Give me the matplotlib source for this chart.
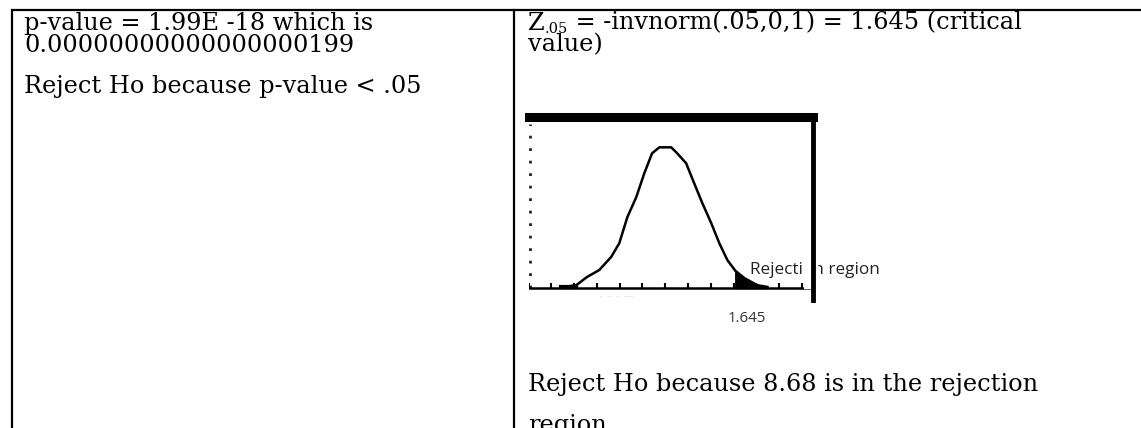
import numpy as np
import matplotlib
matplotlib.use("Agg")
import matplotlib.pyplot as plt
from matplotlib.patches import Rectangle

# cell texts
left_lines = ["p-value = 1.99E -18 which is", "0.00000000000000000199"]
left_decision = "Reject Ho because p-value < .05"
z_main, z_sub = "Z", ".05"
right_first_rest = " = -invnorm(.05,0,1) = 1.645 (critical"
right_second = "value)"
right_decision = ["Reject Ho because 8.68 is in the rejection", "region"]

# normal curve
z_vals = [-2.38, -2.09, -1.84, -1.55, -1.27, -1.08, -0.89, -0.68, -0.49, -0.31, -0.14,
          0.14, 0.28, 0.49, 0.68, 0.87, 1.08, 1.27, 1.46, 1.645, 1.86, 2.16, 2.40]
dens_vals = [0.003, 0.008, 0.031, 0.051, 0.088, 0.127, 0.201, 0.258, 0.326, 0.382, 0.399,
             0.399, 0.382, 0.354, 0.297, 0.241, 0.184, 0.127, 0.079, 0.049, 0.028, 0.008, 0.003]
z_crit = 1.645
crit_label = "1.645"
region_label = "Rejection region"

W, H = 1141, 428
fig = plt.figure(figsize=(W / 100, H / 100), dpi=100)
bg = fig.add_axes([0, 0, 1, 1])
bg.set_xlim(0, W)
bg.set_ylim(H, 0)
bg.axis("off")

serif = dict(family="DejaVu Serif", fontsize=17.3, color="black", va="baseline")

# table grid
lw = 1.6
bg.plot([12, W], [10, 10], color="black", lw=lw, solid_capstyle="butt")
bg.plot([12, 12], [10, H], color="black", lw=lw)
bg.plot([514, 514], [10, H], color="black", lw=lw)

# left cell
bg.text(24, 29.5, left_lines[0], **serif)
bg.text(24, 51.5, left_lines[1], **serif)
bg.text(24, 93, left_decision, **serif)

# right cell, first line with the subscript
renderer = fig.canvas.get_renderer()
t = bg.text(528, 29.5, z_main, **serif)
x_next = t.get_window_extent(renderer).x1
t = bg.text(x_next, 32.5, z_sub, family="DejaVu Serif", fontsize=10.5, va="baseline")
x_next = t.get_window_extent(renderer).x1
bg.text(x_next, 29.5, right_first_rest, **serif)
bg.text(528, 51.5, right_second, **serif)
bg.text(528, 391, right_decision[0], **serif)
bg.text(528, 432, right_decision[1], **serif)

# inset: calculator graph
x0, x1, y0, y1 = 529, 813, 117, 300
ax = fig.add_axes([x0 / W, 1 - y1 / H, (x1 - x0) / W, (y1 - y0) / H])
xmin, xmax = -3.2, 3.47
ymin, ymax = -0.034, 0.485
ax.set_xlim(xmin, xmax)
ax.set_ylim(ymin, ymax)
ax.set_xticks([])
ax.set_yticks([])
ax.patch.set_alpha(0)
for side in ["bottom", "right", "left"]:
    ax.spines[side].set_visible(False)
ax.spines["top"].set_linewidth(6.5)

# dotted left edge of the screen
ax.plot([xmin + 0.03, xmin + 0.03], [0, ymax - 0.02], color="#222222", lw=2,
        ls=(0, (1, 3.5)), zorder=2)

ax.plot(z_vals, dens_vals, color="black", lw=1.8, zorder=3)
ax.axhline(0, color="black", lw=1.8, zorder=3)
ticks = np.arange(-6, 7) * 0.535
ax.vlines(ticks, 0, 0.013, color="black", lw=1.5)
zz = [z for z in z_vals if z >= z_crit]
dd = [d for z, d in zip(z_vals, dens_vals) if z >= z_crit]
ax.fill_between(zz, 0, dd, color="black", zorder=3)
ax.plot([-2.45, -2.1], [0.003, 0.003], color="black", lw=3)

ax.text(2.0, 0.051, region_label, family="Open Sans", fontsize=12.3, color="#222222",
        va="center", ha="left", clip_on=False, zorder=3)
ax.add_patch(Rectangle((0.968, 0.065), 0.046, 0.13, transform=ax.transAxes,
                       color="white", zorder=4, clip_on=False))
ax.axvline(xmax, color="black", lw=3.5, zorder=5, clip_on=False)
ax.text(1.915, -0.087, crit_label, family="Open Sans", fontsize=10.8, color="#333333",
        va="center", ha="center", clip_on=False)
ax.text(-1.15, -0.022, "-  --  -  ----", family="DejaVu Sans", fontsize=5, color="#cccccc",
        va="center", ha="center", clip_on=False)

fig.savefig("out.png", dpi=100)
